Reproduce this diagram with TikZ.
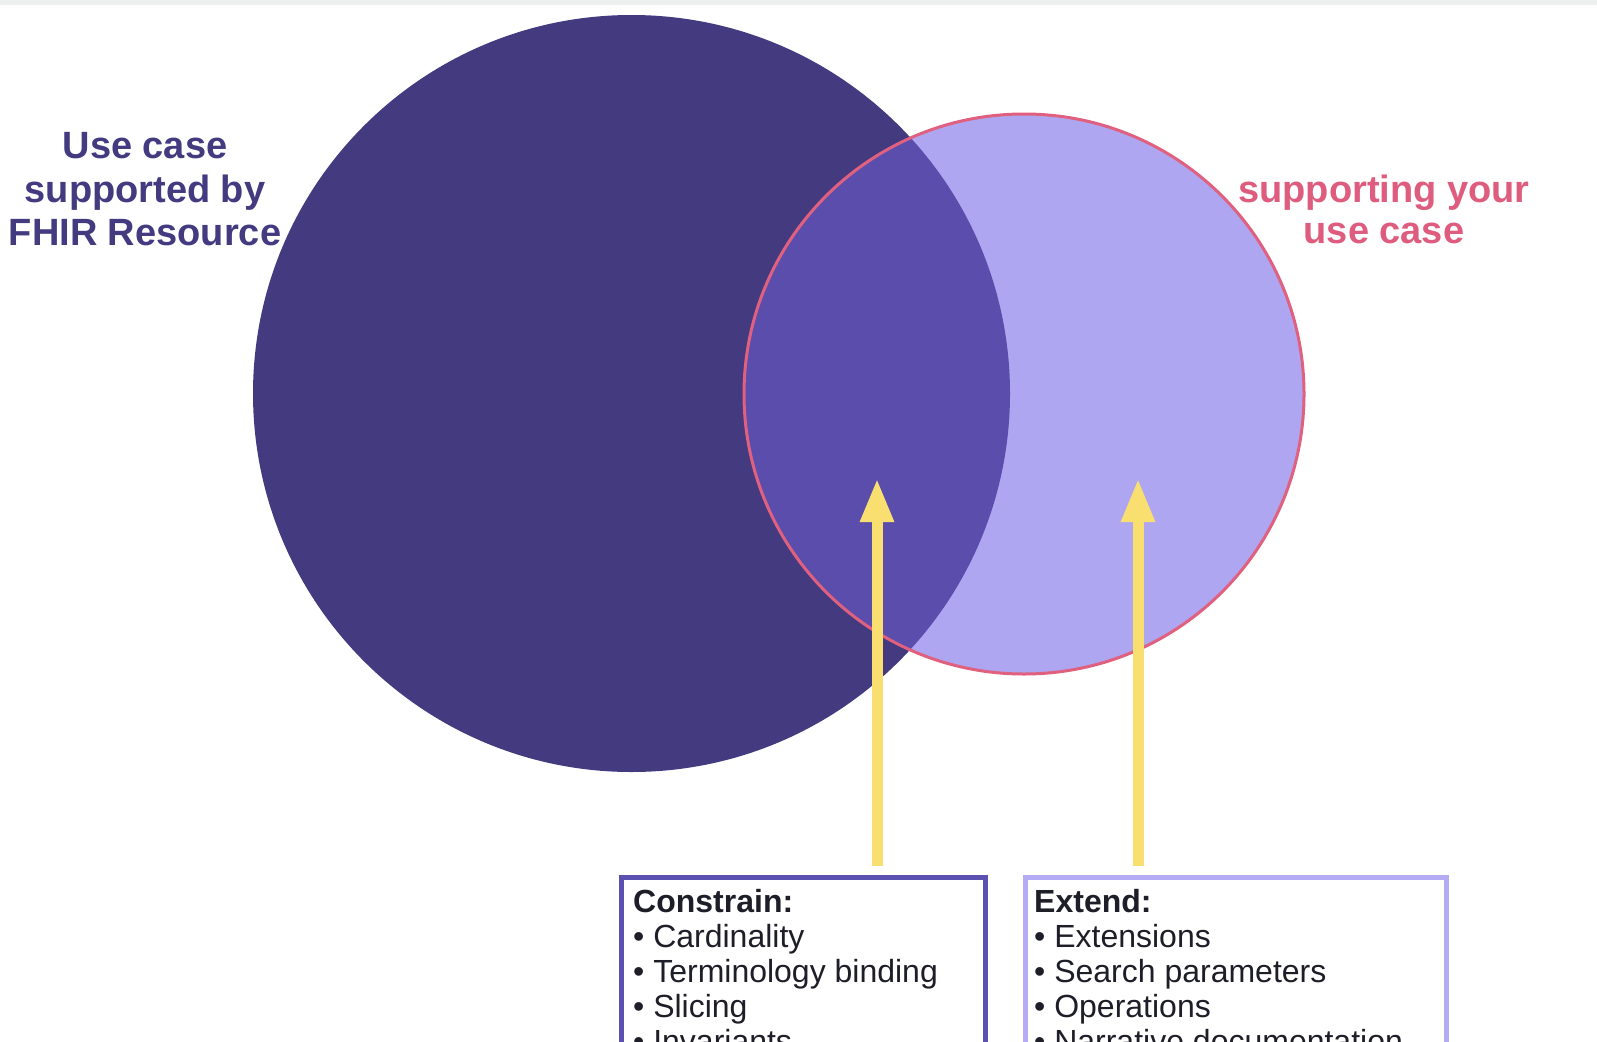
\documentclass[tikz,border=0pt]{standalone}
\usepackage{fontspec}
\setmainfont{Liberation Sans}
\usetikzlibrary{arrows.meta,calc}
\definecolor{bigc}{HTML}{433A80}
\definecolor{smallc}{HTML}{AFA6F1}
\definecolor{interc}{HTML}{5A4DAB}
\definecolor{pinkc}{HTML}{E0607F}
\definecolor{arrowc}{HTML}{F9DF6F}
\definecolor{cboxc}{HTML}{5C50B0}
\definecolor{eboxc}{HTML}{B5ABF4}
\definecolor{txtc}{HTML}{1E1E28}
\definecolor{bandc}{HTML}{EEEFEF}
\definecolor{labpurple}{HTML}{433A80}
\definecolor{labpink}{HTML}{DE5D7E}
\tikzset{
  venn/.style={circle, inner sep=0pt, outer sep=0pt},
  boxstyle/.style={rectangle, fill=white, line width=5pt, inner sep=0pt, outer sep=0pt, anchor=north west},
  listtext/.style={align=left, inner sep=0pt, text=txtc, font=\fontsize{32}{35}\selectfont},
  biglabel/.style={align=center, inner sep=0pt, font=\bfseries\fontsize{38}{43.5}\selectfont},
  yarrow/.style={draw=arrowc, line width=11pt, -{Triangle[width=31pt,length=44pt]}, shorten <=11pt}
}
\begin{document}
\begin{tikzpicture}[x=1pt,y=-1pt]
\useasboundingbox (0,0) rectangle (1597,1041);
\clip (0,0) rectangle (1597,1041);
\fill[white] (0,0) rectangle (1597,1041);
\fill[bandc] (0,0) rectangle (1597,5.5);

% circles
\node[venn, minimum size=757pt, fill=bigc] (big) at (631.5,393.5) {};
\node[venn, minimum size=560pt, fill=smallc] (small) at (1024,394) {};
\begin{scope}
  \clip (small.center) circle[radius=280pt];
  \fill[interc] (big.center) circle[radius=378.5pt];
\end{scope}
\draw[pinkc, line width=3pt] (small.center) circle[radius=280pt];

% labels (base anchor = baseline of the last line)
\node[biglabel, text=labpurple, anchor=base] (lbl1) at (145,245.5) {Use case\\supported by\\FHIR Resource};
\node[biglabel, text=labpink, anchor=base, font=\bfseries\fontsize{38}{41.5}\selectfont] (lbl2) at (1384,243.5) {supporting your\\use case};

% boxes
\node[boxstyle, draw=cboxc, minimum width=364pt, minimum height=260pt] (cbox) at (621,877) {};
\node[boxstyle, draw=eboxc, minimum width=421pt, minimum height=260pt] (ebox) at (1025,877) {};
\node[listtext, anchor=base west] (ctext) at ($(cbox.north west)+(12,175)$)
  {\textbf{Constrain:}\\• Cardinality\\• Terminology binding\\• Slicing\\• Invariants};
\node[listtext, anchor=base west] (etext) at ($(ebox.north west)+(9,175)$)
  {\textbf{Extend:}\\• Extensions\\• Search parameters\\• Operations\\• Narrative documentation};

% arrows
\coordinate (tip1) at (877,478);
\coordinate (tip2) at (1138,478);
\draw[yarrow] (cbox.north -| tip1) -- (tip1);
\draw[yarrow] (ebox.north -| tip2) -- (tip2);
\end{tikzpicture}
\end{document}
